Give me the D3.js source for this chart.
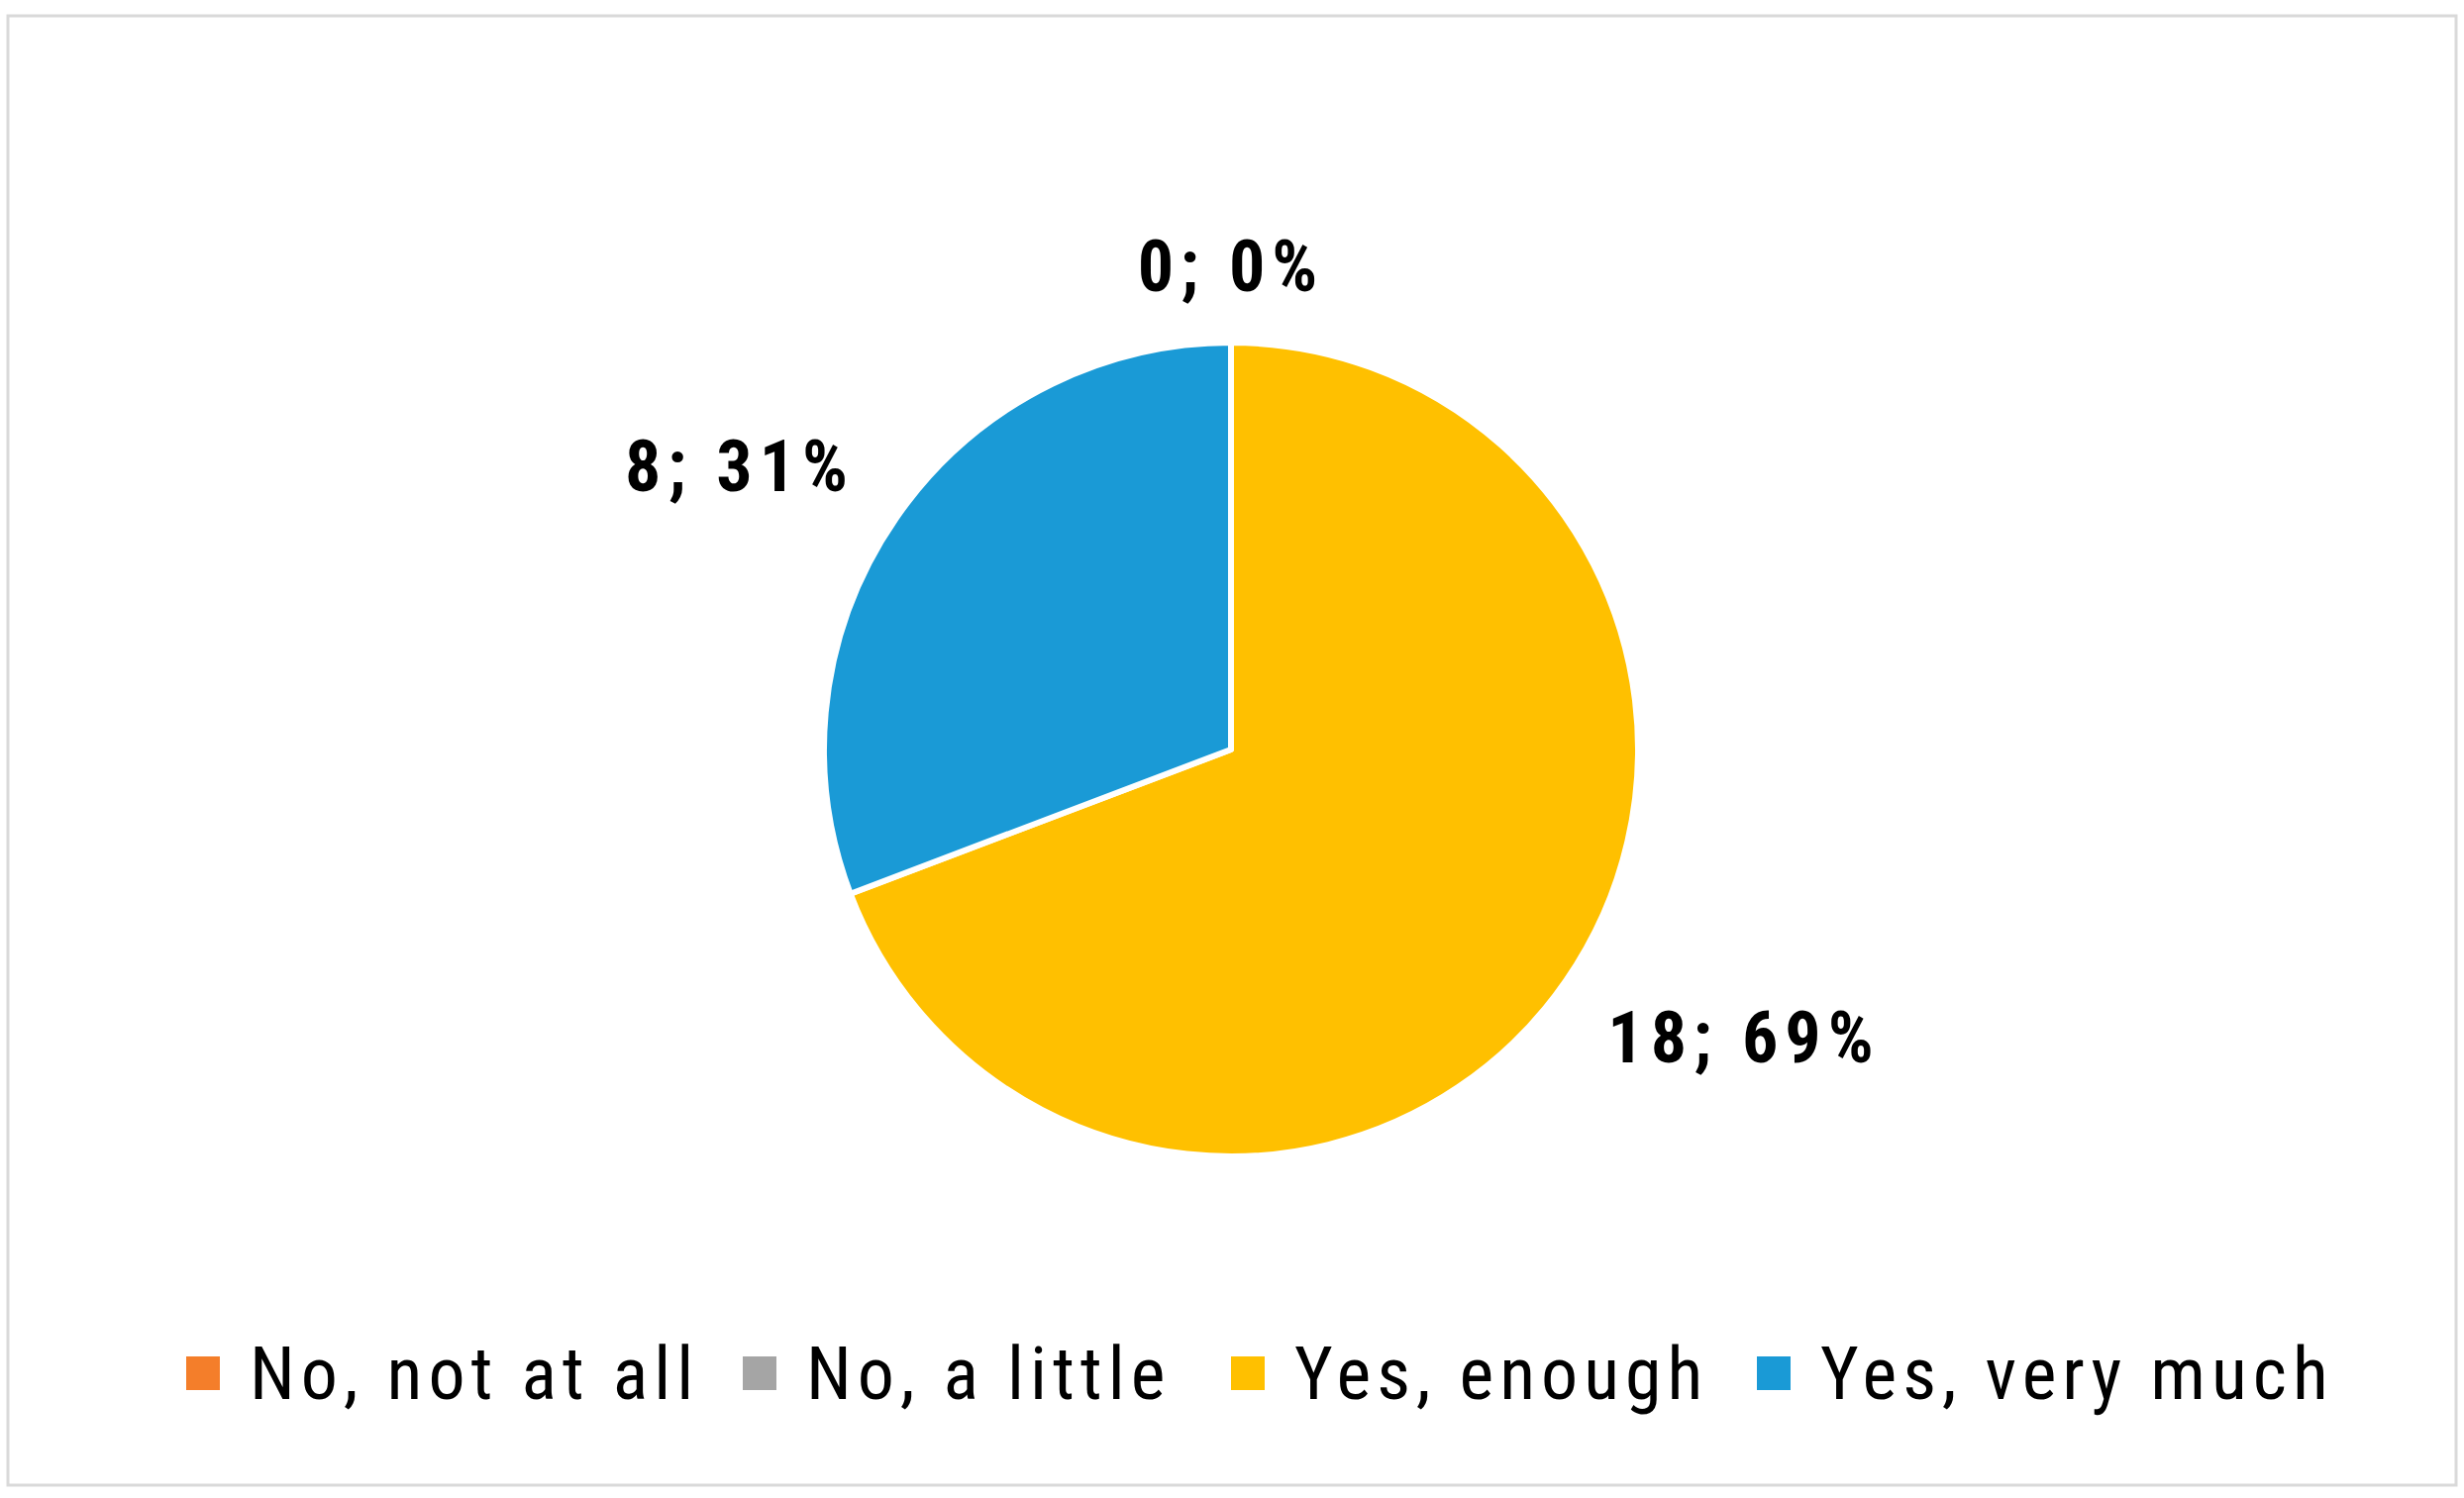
<!DOCTYPE html>
<html><head><meta charset="utf-8">
<script src="https://cdn.jsdelivr.net/npm/d3@7"></script>
<style>body{margin:0;background:#fff}</style></head>
<body><svg id="c" width="2488" height="1513"></svg>
<script>
const categories = ["No, not at all", "No, a little", "Yes, enough", "Yes, very much"];
const values = [0, 0, 18, 8];
const colors = ["#F47E2A", "#A5A5A5", "#FFC000", "#1A9AD6"];
const svg = d3.select("#c");
svg.append("rect").attr("x", 8).attr("y", 16).attr("width", 2472).attr("height", 1484)
  .attr("fill", "#fff").attr("stroke", "#d9d9d9").attr("stroke-width", 3);
const cx = 1243, cy = 757, R = 411;
const total = d3.sum(values);
const pie = d3.pie().sort(null).value(d => d)(values);
const arc = d3.arc().innerRadius(0).outerRadius(R);
const g = svg.append("g").attr("transform", `translate(${cx},${cy})`);
g.selectAll("path").data(pie).join("path")
  .attr("d", arc).attr("fill", (d, i) => colors[i])
  .attr("stroke", "#fff").attr("stroke-width", 6).attr("stroke-linejoin", "round");
const font = "'Roboto Condensed', 'Liberation Sans Narrow', Roboto, sans-serif";
const labelArc = d3.arc().innerRadius(R + 120).outerRadius(R + 120);
const shown = new Set();
pie.forEach((d, i) => {
  const [x, y] = labelArc.centroid(d);
  const key = Math.round(x) + "," + Math.round(y);
  if (shown.has(key)) return; shown.add(key);
  const pct = Math.round(d.value / total * 100);
  let dx = 0, dy = 0;
  if (d.value === 0) dy = 43;
  if (i === 2) { dx = 81; dy = -10; }
  if (i === 3) { dx = -59; dy = 16; }
  g.append("text").attr("x", x + dx).attr("y", y + dy)
    .attr("text-anchor", "middle").attr("dominant-baseline", "central")
    .attr("font-family", font).attr("font-weight", "bold").attr("font-size", 72)
    .attr("letter-spacing", 7)
    .attr("fill", "#000").text(`${d.value}; ${pct}%`);
});
const legendX = [188, 750, 1243, 1774];
const lg = svg.append("g");
categories.forEach((c, i) => {
  lg.append("rect").attr("x", legendX[i]).attr("y", 1370).attr("width", 34).attr("height", 34).attr("fill", colors[i]);
  lg.append("text").attr("x", legendX[i] + 64).attr("y", 1387).attr("dominant-baseline", "central")
    .attr("font-family", font).attr("font-size", 74).attr("letter-spacing", 6).attr("fill", "#000").text(c);
});
</script></body></html>
